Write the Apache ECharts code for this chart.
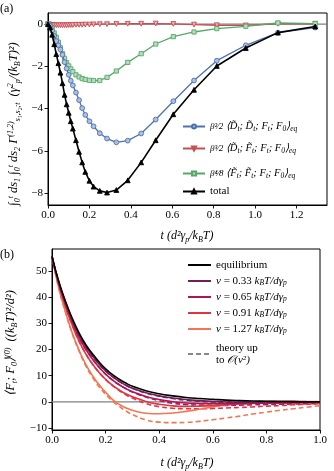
<!DOCTYPE html>
<html><head><meta charset="utf-8">
<script src="https://cdn.jsdelivr.net/npm/echarts@6/dist/echarts.min.js"></script>
<style>html,body{margin:0;padding:0;background:#fff}#c{width:334px;height:471px}</style>
</head><body><div id="c"></div>
<script>
// ---------- Panel (a) data ----------
const tA = [0,0.01,0.02,0.03,0.04,0.05,0.06,0.07,0.08,0.09,0.10,0.11,0.12,0.135,0.15,0.165,0.18,0.2,0.22,0.25,0.285,0.33,0.385,0.45,0.52,0.605,0.705,0.815,0.955,1.11,1.29];
const ddA = [0,-0.08,-0.3,-0.55,-0.8,-1.0,-1.2,-1.45,-1.8,-2.1,-2.4,-2.68,-2.9,-3.24,-3.6,-3.98,-4.3,-4.6,-4.84,-5.17,-5.42,-5.6,-5.52,-5.18,-4.52,-3.65,-2.67,-1.73,-1.0,-0.4,-0.16];
const dfA = [0,-0.02,-0.03,-0.04,-0.05,-0.05,-0.05,-0.05,-0.05,-0.05,-0.04,-0.04,-0.04,-0.03,-0.03,-0.03,-0.02,-0.02,-0.01,0,0,0.01,0.02,0.02,0.03,0.01,-0.02,-0.05,-0.06,0.02,0.02];
const ffA = [0,-0.07,-0.22,-0.42,-0.62,-0.85,-1.12,-1.4,-1.62,-1.82,-1.98,-2.12,-2.25,-2.4,-2.5,-2.58,-2.62,-2.66,-2.67,-2.67,-2.52,-2.22,-1.81,-1.4,-0.94,-0.59,-0.37,-0.21,-0.1,0.06,0.03];
const totA = [0,-0.15,-0.5,-0.95,-1.42,-1.85,-2.3,-2.8,-3.35,-3.8,-4.2,-4.6,-4.95,-5.5,-6.05,-6.55,-7.0,-7.42,-7.7,-7.9,-7.98,-7.86,-7.4,-6.55,-5.5,-4.27,-3.11,-1.98,-1.13,-0.40,-0.11];
const xTicksA = [0,0.2,0.4,0.6,0.8,1.0,1.2];
const yTicksA = [-8,-6,-4,-2,0];

// ---------- Panel (b) data ----------
const tB = [0,0.025,0.05,0.075,0.1,0.125,0.15,0.175,0.2,0.225,0.25,0.275,0.3,0.35,0.4,0.45,0.5,0.55,0.6,0.65,0.7,0.75,0.8,0.85,0.9,0.95,1.0];
const eqB   = [55.5,46,38.5,32,26.5,22,18.5,15.3,12.6,10.5,8.7,7.2,6.0,4.3,3.1,2.3,1.7,1.3,1.0,0.7,0.5,0.35,0.25,0.18,0.12,0.08,0.05];
const v033B = [55.5,45.7,38,31.4,25.8,21.3,17.7,14.5,11.8,9.7,7.9,6.4,5.2,3.5,2.3,1.5,0.9,0.5,0.2,0.0,-0.15,-0.2,-0.2,-0.2,-0.15,-0.1,-0.1];
const v065B = [55.5,45.3,37.3,30.5,24.8,20.2,16.5,13.3,10.6,8.4,6.6,5.1,3.9,2.1,0.9,0.1,-0.4,-0.6,-0.7,-0.7,-0.6,-0.5,-0.4,-0.3,-0.2,-0.15,-0.1];
const v091B = [55.5,44.8,36.4,29.4,23.4,18.5,14.6,11.3,8.6,6.4,4.6,3.1,2.0,0.2,-0.9,-1.5,-1.7,-1.6,-1.4,-1.1,-0.8,-0.6,-0.4,-0.3,-0.2,-0.1,-0.1];
const v127B = [55.5,43.5,34.5,26.5,20,14.5,10.2,6.6,3.7,1.0,-0.9,-2.2,-3.2,-4.3,-4.5,-4.2,-3.6,-2.8,-1.9,-1.1,-0.4,0.0,0.2,0.3,0.3,0.2,0.1];
const th033B = [55.5,45.7,38,31.4,25.8,21.3,17.7,14.5,11.8,9.7,7.9,6.4,5.2,3.4,2.2,1.3,0.7,0.3,0.0,-0.2,-0.3,-0.35,-0.35,-0.3,-0.3,-0.25,-0.2];
const th065B = [55.5,45.3,37.3,30.5,24.8,20.2,16.5,13.3,10.6,8.4,6.6,5.1,3.8,1.9,0.5,-0.5,-1.0,-1.2,-1.3,-1.3,-1.2,-1.1,-1.0,-0.9,-0.8,-0.7,-0.6];
const th091B = [55.5,44.8,36.4,29.4,23.4,18.5,14.6,11.3,8.6,6.3,4.4,2.8,1.5,-0.6,-1.8,-2.4,-2.6,-2.6,-2.5,-2.3,-2.1,-1.9,-1.6,-1.4,-1.1,-0.9,-0.7];
const th127B = [55.5,43.4,34.3,26.2,19.6,14.0,9.6,5.9,2.9,0.4,-1.6,-3.4,-4.8,-6.8,-7.7,-7.9,-7.8,-7.4,-6.8,-6.1,-5.4,-4.6,-3.9,-3.2,-2.6,-2.0,-1.4];
const xTicksB = [0,0.2,0.4,0.6,0.8,1.0];
const yTicksB = [-10,0,10,20,30,40,50];

const pair = (ts, vs) => ts.map((t, i) => [t, vs[i]]);
const F = 'Liberation Serif';
const minus = v => String(v).replace('-', '\u2212');
const fmt1 = v => minus(v.toFixed(1));

const C = {blue:'#4c72b0', red:'#c44e52', green:'#55a868', black:'#000',
  p1:'#701f57', p2:'#ad1759', p3:'#e13342', p4:'#f37651'};

function axisCommon(ticks, fmt) {
  return {
    axisLine: {show: true, onZero: false, lineStyle: {color: '#000', width: 1}},
    axisTick: {show: true, inside: false, length: 3.5, customValues: ticks, lineStyle: {color: '#000', width: 0.9}},
    axisLabel: {customValues: ticks, formatter: fmt, fontFamily: F, fontSize: 11, color: '#000', margin: 5},
    splitLine: {show: false}
  };
}

const chart = echarts.init(document.getElementById('c'), null, {renderer: 'canvas'});

const TRI_DOWN = 'path://M0,0 L10,0 L5,9 Z';
function markerSeries(name, data, color, symbol, fill, lw, z) {
  return {
    name, type: 'line', xAxisIndex: 0, yAxisIndex: 0, data,
    symbol, symbolSize: symbol === 'rect' ? 4.2 : 4.8,
    showAllSymbol: true, smooth: false, z,
    lineStyle: {color, width: lw},
    itemStyle: {color: fill, borderColor: color, borderWidth: 0.9},
    emphasis: {disabled: true}, animation: false
  };
}

const lineB = (name, data, color, dashed, z) => ({
  name, type: 'line', xAxisIndex: 1, yAxisIndex: 1, data, symbol: 'none', smooth: true, z,
  lineStyle: {color, width: 1.6, type: dashed ? [5, 3] : 'solid'},
  itemStyle: {color}, emphasis: {disabled: true}, animation: false
});

const legA = (name, top) => ({
  data: [name], left: 182, top, orient: 'vertical', itemWidth: 22, itemHeight: 5, itemGap: 0,
  padding: 0, selectedMode: false,
  formatter: n => ({
    dd: '{f|β²⁄2}{m| ⟨D̃}{s|t}{m|; D̃}{s|t}{m|; F}{s|t}{m|; F}{s|0}{m|⟩}{s|eq}',
    df: '{f|β³⁄2}{m| ⟨D̃}{s|t}{m|; F̃}{s|t}{m|; F}{s|t}{m|; F}{s|0}{m|⟩}{s|eq}',
    ff: '{f|β⁴⁄8}{m| ⟨F̃}{s|t}{m|; F̃}{s|t}{m|; F}{s|t}{m|; F}{s|0}{m|⟩}{s|eq}',
    total: '{n|total}'
  })[n],
  textStyle: {fontFamily: F, fontSize: 10, color: '#000', rich: {
    f: {fontFamily: F, fontSize: 9, fontStyle: 'italic', color: '#000'},
    m: {fontFamily: F, fontSize: 10.5, fontStyle: 'italic', color: '#000'},
    s: {fontFamily: F, fontSize: 7.5, fontStyle: 'italic', color: '#000', verticalAlign: 'bottom', padding: [6, 0, 0, 0]},
    n: {fontFamily: F, fontSize: 11, color: '#000'}
  }}
});

const vTxt = v => `{i|v} = ${v} {i|k}{s|B}{i|T/dγ}{s|p}`;
const legB = (name, top, label) => ({
  data: [name], left: 187, top, itemWidth: 23, itemHeight: 10, padding: 0, selectedMode: false,
  itemStyle: {opacity: 0},
  formatter: () => label,
  textStyle: {fontFamily: F, fontSize: 11, color: '#000', lineHeight: 12, rich: {
    i: {fontFamily: F, fontSize: 11, fontStyle: 'italic', color: '#000'},
    s: {fontFamily: F, fontSize: 7.5, fontStyle: 'italic', color: '#000', verticalAlign: 'bottom', padding: [6, 0, 0, 0]},
    n: {fontFamily: F, fontSize: 11, color: '#000', lineHeight: 12},
    o: {fontFamily: F, fontSize: 11, fontStyle: 'italic', color: '#000', lineHeight: 12}
  }}
});

const option = {
  backgroundColor: '#fff',
  animation: false,
  grid: [
    {left: 48, top: 13, width: 279, height: 192, show: true, borderColor: '#000', borderWidth: 1, backgroundColor: 'transparent'},
    {left: 52, top: 249, width: 268, height: 181, show: true, borderColor: '#000', borderWidth: 1, backgroundColor: 'transparent'}
  ],
  xAxis: [
    Object.assign({type: 'value', gridIndex: 0, min: 0, max: 1.347}, axisCommon(xTicksA, fmt1)),
    Object.assign({type: 'value', gridIndex: 1, min: 0, max: 1.0}, axisCommon(xTicksB, fmt1))
  ],
  yAxis: [
    Object.assign({type: 'value', gridIndex: 0, min: -8.57, max: 0.53}, axisCommon(yTicksA, v => minus(v))),
    Object.assign({type: 'value', gridIndex: 1, min: -10.7, max: 58.3}, axisCommon(yTicksB, v => minus(v)))
  ],
  legend: [
    legA('dd', 121), legA('df', 143), legA('ff', 168), legA('total', 186),
    legB('equilibrium', 259, '{n|equilibrium}'),
    legB('v033', 275, vTxt('0.33')),
    legB('v065', 291, vTxt('0.65')),
    legB('v091', 307, vTxt('0.91')),
    legB('v127', 323, vTxt('1.27')),
    legB('theory', 342, '{n|theory up}\n{n|to }{o|𝒪(v²)}')
  ],
  series: [
    {type: 'line', xAxisIndex: 0, yAxisIndex: 0, data: [[0, 0], [1.347, 0]], symbol: 'none', silent: true,
      lineStyle: {color: '#808080', width: 1.2}, z: 1},
    markerSeries('df', pair(tA, dfA), C.red, TRI_DOWN, '#e9b3b5', 1.3, 3),
    markerSeries('ff', pair(tA, ffA), C.green, 'rect', '#b7dcc2', 1.3, 4),
    markerSeries('dd', pair(tA, ddA), C.blue, 'circle', '#aebfe0', 1.3, 5),
    markerSeries('total', pair(tA, totA), C.black, 'triangle', '#000', 1.6, 6),

    {type: 'line', xAxisIndex: 1, yAxisIndex: 1, data: [[0, 0], [1, 0]], symbol: 'none', silent: true,
      lineStyle: {color: '#808080', width: 1.2}, z: 1},
    lineB('theory', [], '#888888', true, 2),
    lineB('th033', pair(tB, th033B), C.p1, true, 3),
    lineB('th065', pair(tB, th065B), C.p2, true, 3),
    lineB('th091', pair(tB, th091B), C.p3, true, 3),
    lineB('th127', pair(tB, th127B), C.p4, true, 3),
    lineB('v127', pair(tB, v127B), C.p4, false, 4),
    lineB('v091', pair(tB, v091B), C.p3, false, 5),
    lineB('v065', pair(tB, v065B), C.p2, false, 6),
    lineB('v033', pair(tB, v033B), C.p1, false, 7),
    lineB('equilibrium', pair(tB, eqB), C.black, false, 8)
  ],
  graphic: [
    {type: 'text', left: 0, top: 3, style: {text: '(a)', font: `12px "${F}"`, fill: '#000'}},
    {type: 'text', left: 0, top: 249, style: {text: '(b)', font: `12px "${F}"`, fill: '#000'}},
    {type: 'text', x: 187, y: 236, style: {
      text: '{i|t} (d²γ{s|p}/{i|k}{s|B}{i|T})', align: 'center', verticalAlign: 'middle',
      rich: {i: {font: `italic 12px "${F}"`}, s: {font: `italic 8px "${F}"`, verticalAlign: 'bottom', padding: [7, 0, 0, 0]}},
      font: `italic 12px "${F}"`, fill: '#000'}},
    {type: 'text', x: 187, y: 463, style: {
      text: '{i|t} (d²γ{s|p}/{i|k}{s|B}{i|T})', align: 'center', verticalAlign: 'middle',
      rich: {i: {font: `italic 12px "${F}"`}, s: {font: `italic 8px "${F}"`, verticalAlign: 'bottom', padding: [7, 0, 0, 0]}},
      font: `italic 12px "${F}"`, fill: '#000'}},
    {type: 'text', x: 14, y: 124, rotation: Math.PI / 2, style: {
      text: '∫{s|0}{u|t} d{i|s}{s|1} ∫{s|0}{u|t} d{i|s}{s|2} Γ{u|(1,2)}{s|s₁,s₂;t}  (γ{u|2}{s|p}/({i|k}{s|B}{i|T})²)',
      align: 'center', verticalAlign: 'middle', font: `italic 12.5px "${F}"`, fill: '#000',
      rich: {i: {font: `italic 12.5px "${F}"`}, s: {font: `italic 8px "${F}"`, verticalAlign: 'bottom', padding: [7, 0, 0, 0]},
        u: {font: `italic 8px "${F}"`, verticalAlign: 'top', padding: [0, 0, 6, 0]}}}},
    {type: 'text', x: 11, y: 343, rotation: Math.PI / 2, style: {
      text: '⟨F{s|t}; F{s|0}⟩{u|(0)}  (({i|k}{s|B}{i|T})²/d²)',
      align: 'center', verticalAlign: 'middle', font: `italic 12.5px "${F}"`, fill: '#000',
      rich: {i: {font: `italic 12.5px "${F}"`}, s: {font: `italic 8px "${F}"`, verticalAlign: 'bottom', padding: [7, 0, 0, 0]},
        u: {font: `italic 8px "${F}"`, verticalAlign: 'top', padding: [0, 0, 6, 0]}}}}
  ]
};
chart.setOption(option);
</script></body></html>
